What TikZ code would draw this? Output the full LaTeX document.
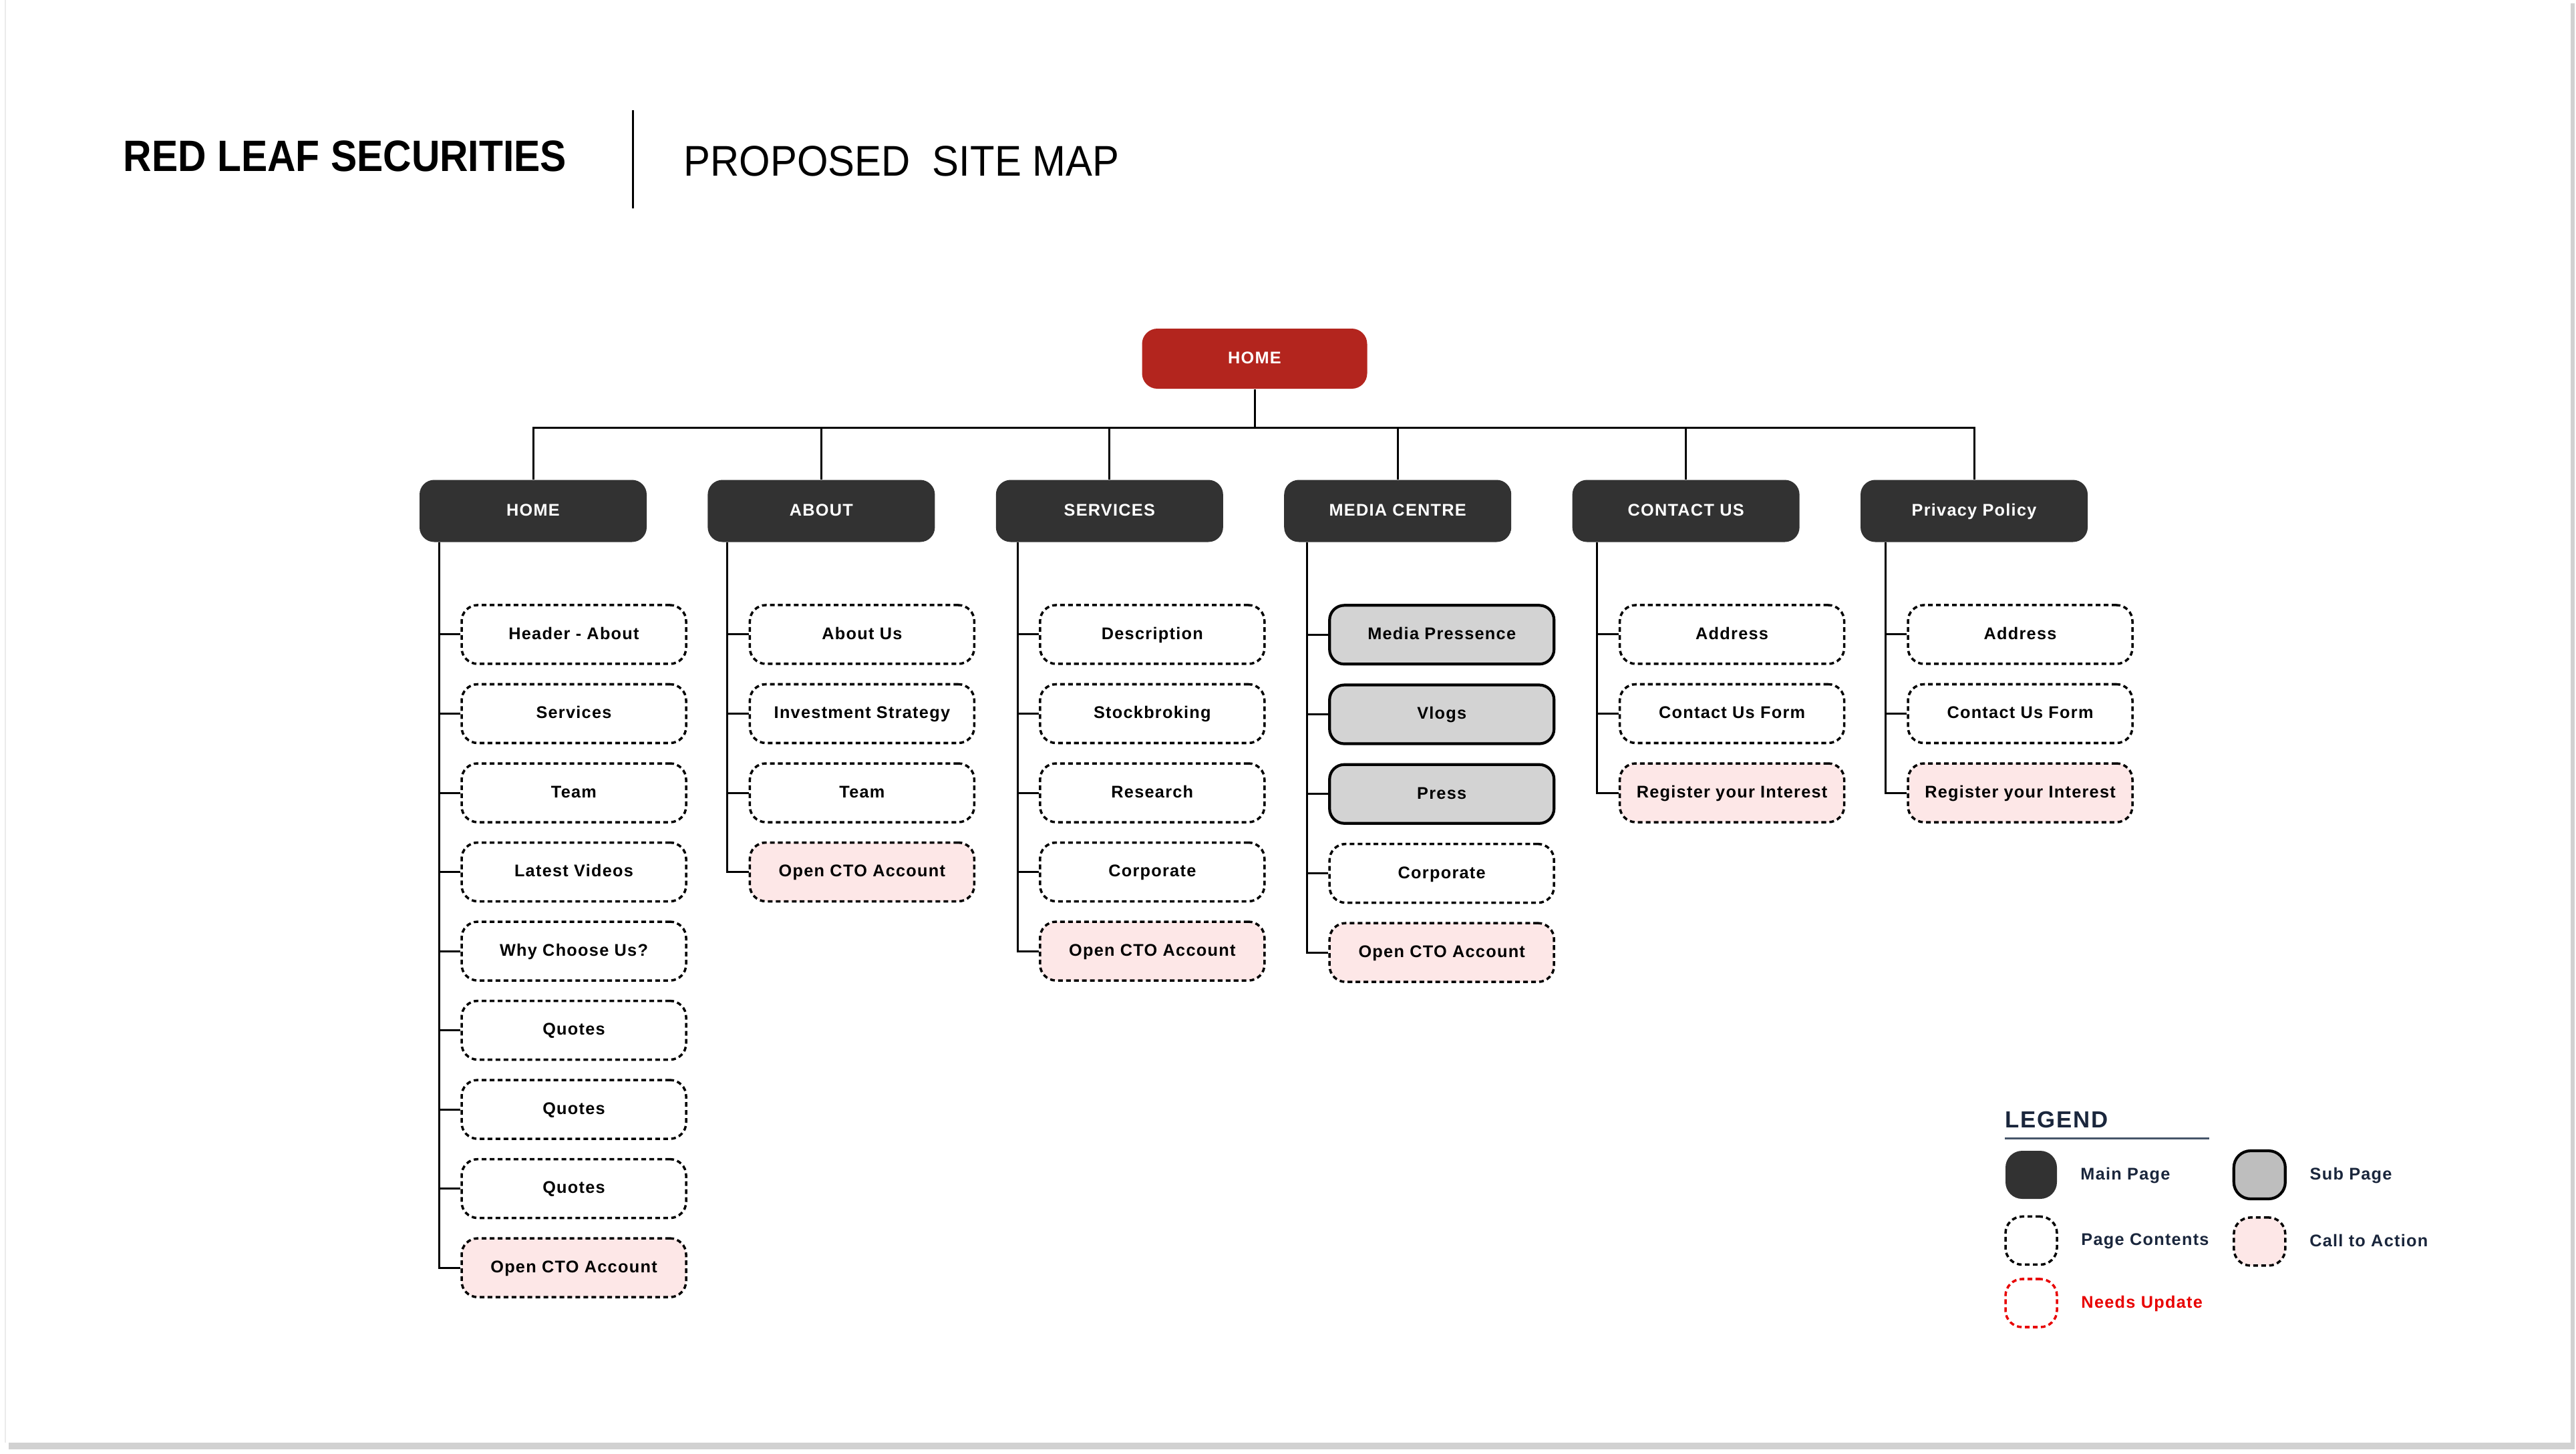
\documentclass[tikz,border=0pt]{standalone}
\usepackage{fontspec}
\setmainfont{Liberation Sans}
\newfontfamily\boxfont[LetterSpace=5]{Liberation Sans}
\newfontfamily\titlefont[FakeStretch=0.895]{Liberation Sans}
\newfontfamily\subtitlefont[FakeStretch=0.93]{Liberation Sans}
\usepackage{xcolor}
\usetikzlibrary{positioning}

\definecolor{leafred}{RGB}{179,37,30}
\definecolor{pagedark}{RGB}{50,50,50}
\definecolor{subgray}{RGB}{211,211,211}
\definecolor{ctapink}{RGB}{253,231,231}
\definecolor{legendnavy}{RGB}{26,38,60}
\definecolor{legendrule}{RGB}{70,85,105}
\definecolor{updatered}{RGB}{232,0,0}

\begin{document}
\begin{tikzpicture}[node distance=0.27cm,
    link/.style={line width=0.85pt},
    boxtext/.style={font=\boxfont\bfseries\fontsize{7.2}{8.6}\selectfont, text height=5.3pt, text depth=1.1pt},
    rootpage/.style={boxtext, rectangle, rounded corners=0.23cm, fill=leafred, text=white, minimum width=3.37cm, minimum height=0.90cm},
    mainpage/.style={boxtext, rectangle, rounded corners=0.22cm, fill=pagedark, text=white, minimum width=3.40cm, minimum height=0.93cm},
    content/.style={boxtext, rectangle, rounded corners=0.24cm, draw, line width=1pt, dash pattern=on 2pt off 1.4pt, fill=white, minimum width=3.36cm, minimum height=0.88cm},
    cta/.style={content, fill=ctapink},
    subpage/.style={boxtext, rectangle, rounded corners=0.22cm, draw, line width=1.2pt, fill=subgray, minimum width=3.36cm, minimum height=0.88cm},
    swatch/.style={rectangle, rounded corners=0.25cm, minimum width=0.77cm, minimum height=0.72cm, inner sep=0pt},
    legendtext/.style={boxtext, text=legendnavy, inner sep=0pt, anchor=west}]

    \useasboundingbox (0,0) rectangle (38.56,-21.76);

    % Sheet and shadow
    \fill[black!18] (0.13,-0.05) rectangle (38.54,-21.70);
    \fill[white] (0.08,0) rectangle (38.48,-21.60);
    \draw[black!8, line width=0.4pt] (0.08,0) -- (0.08,-21.60);

    % Title
    \node (company) [font=\titlefont\bfseries\fontsize{18.7}{22}\selectfont, anchor=west, inner sep=0pt] at (1.84,-2.34) {RED LEAF SECURITIES};
    \coordinate (sepTop) at (9.47,-1.65);
    \coordinate (sepBot) at (9.47,-3.12);
    \draw[link] (sepTop) -- (sepBot);
    \node (subtitle) [font=\subtitlefont\fontsize{18.3}{22}\selectfont, anchor=west, inner sep=0pt] at (10.23,-2.41) {PROPOSED\ \ SITE MAP};

    % Root and main pages
    \node (root) [rootpage] at (18.78,-5.37) {HOME};
    \node (hm) [mainpage] at (7.98,-7.65) {HOME};
    \node (ab) [mainpage, right=0.90cm of hm] {ABOUT};
    \node (sv) [mainpage, right=0.90cm of ab] {SERVICES};
    \node (mc) [mainpage, right=0.90cm of sv] {MEDIA CENTRE};
    \node (cu) [mainpage, right=0.90cm of mc] {CONTACT US};
    \node (pp) [mainpage, right=0.90cm of cu] {Privacy Policy};

    % Bus from root to main pages
    \coordinate[yshift=-0.58cm] (bus) at (root.south);
    \draw[link] (root) -- (bus);
    \foreach \m in {hm,ab,sv,mc,cu,pp}
        \draw[link] (\m.north) |- (bus);

    % HOME contents
    \node (hHead) [content, below=0.92cm of hm, xshift=0.61cm] {Header - About};
    \node (hServ) [content, below=of hHead] {Services};
    \node (hTeam) [content, below=of hServ] {Team};
    \node (hVid) [content, below=of hTeam] {Latest Videos};
    \node (hWhy) [content, below=of hVid] {Why Choose Us?};
    \node (hQa) [content, below=of hWhy] {Quotes};
    \node (hQb) [content, below=of hQa] {Quotes};
    \node (hQc) [content, below=of hQb] {Quotes};
    \node (hCta) [cta, below=of hQc] {Open CTO Account};

    % ABOUT contents
    \node (aUs) [content, below=0.92cm of ab, xshift=0.61cm] {About Us};
    \node (aInv) [content, below=of aUs] {Investment Strategy};
    \node (aTeam) [content, below=of aInv] {Team};
    \node (aCta) [cta, below=of aTeam] {Open CTO Account};

    % SERVICES contents
    \node (sDesc) [content, below=0.92cm of sv, xshift=0.64cm] {Description};
    \node (sStock) [content, below=of sDesc] {Stockbroking};
    \node (sRes) [content, below=of sStock] {Research};
    \node (sCorp) [content, below=of sRes] {Corporate};
    \node (sCta) [cta, below=of sCorp] {Open CTO Account};

    % MEDIA CENTRE contents
    \node (mPres) [subpage, below=0.92cm of mc, xshift=0.66cm] {Media Pressence};
    \node (mVlog) [subpage, below=of mPres] {Vlogs};
    \node (mPress) [subpage, below=of mVlog] {Press};
    \node (mCorp) [content, below=of mPress] {Corporate};
    \node (mCta) [cta, below=of mCorp] {Open CTO Account};

    % CONTACT US contents
    \node (cAddr) [content, below=0.92cm of cu, xshift=0.69cm] {Address};
    \node (cForm) [content, below=of cAddr] {Contact Us Form};
    \node (cReg) [cta, below=of cForm] {Register your Interest};

    % Privacy Policy contents
    \node (pAddr) [content, below=0.92cm of pp, xshift=0.69cm] {Address};
    \node (pForm) [content, below=of pAddr] {Contact Us Form};
    \node (pReg) [cta, below=of pForm] {Register your Interest};

    % Trunks
    \coordinate[xshift=-0.32cm] (hmT) at (hm.south -| hHead.west);
    \coordinate[xshift=-0.32cm] (abT) at (ab.south -| aUs.west);
    \coordinate[xshift=-0.32cm] (svT) at (sv.south -| sDesc.west);
    \coordinate[xshift=-0.32cm] (mcT) at (mc.south -| mPres.west);
    \coordinate[xshift=-0.32cm] (cuT) at (cu.south -| cAddr.west);
    \coordinate[xshift=-0.32cm] (ppT) at (pp.south -| pAddr.west);

    \draw[link] (hmT) |- (hCta.west);
    \draw[link] (abT) |- (aCta.west);
    \draw[link] (svT) |- (sCta.west);
    \draw[link] (mcT) |- (mCta.west);
    \draw[link] (cuT) |- (cReg.west);
    \draw[link] (ppT) |- (pReg.west);

    \foreach \c in {hHead,hServ,hTeam,hVid,hWhy,hQa,hQb,hQc}
        \draw[link] (\c.west) -- (\c.west -| hmT);
    \foreach \c in {aUs,aInv,aTeam}
        \draw[link] (\c.west) -- (\c.west -| abT);
    \foreach \c in {sDesc,sStock,sRes,sCorp}
        \draw[link] (\c.west) -- (\c.west -| svT);
    \foreach \c in {mPres,mVlog,mPress,mCorp}
        \draw[link] (\c.west) -- (\c.west -| mcT);
    \foreach \c in {cAddr,cForm}
        \draw[link] (\c.west) -- (\c.west -| cuT);
    \foreach \c in {pAddr,pForm}
        \draw[link] (\c.west) -- (\c.west -| ppT);

    % Legend
    \node (lgTitle) [font=\boxfont\bfseries\fontsize{9.9}{12}\selectfont, text=legendnavy, anchor=base west, inner sep=0pt] at (30.01,-16.88) {LEGEND};
    \coordinate (ruleL) at (30.01,-17.04);
    \coordinate (ruleR) at (33.07,-17.04);
    \draw[legendrule, line width=0.85pt] (ruleL) -- (ruleR);

    \node (swMain) [swatch, fill=pagedark] at (30.405,-17.59) {};
    \node (swSub) [swatch, draw, line width=1.2pt, fill=subgray!90!black, right=2.62cm of swMain] {};
    \node (swCont) [swatch, draw, line width=1pt, dash pattern=on 2pt off 1.4pt, below=0.24cm of swMain] {};
    \node (swCta) [swatch, draw, line width=1pt, dash pattern=on 2pt off 1.4pt, fill=ctapink, below=0.24cm of swSub] {};
    \node (swUpd) [swatch, draw=updatered, line width=1pt, dash pattern=on 2pt off 1.4pt, below=0.18cm of swCont] {};

    \node (lgMain) [legendtext, right=0.34cm of swMain] {Main Page};
    \node (lgSub) [legendtext, right=0.34cm of swSub] {Sub Page};
    \node (lgCont) [legendtext, right=0.34cm of swCont] {Page Contents};
    \node (lgCta) [legendtext, right=0.34cm of swCta] {Call to Action};
    \node (lgUpd) [legendtext, text=updatered, right=0.34cm of swUpd] {Needs Update};
\end{tikzpicture}
\end{document}
